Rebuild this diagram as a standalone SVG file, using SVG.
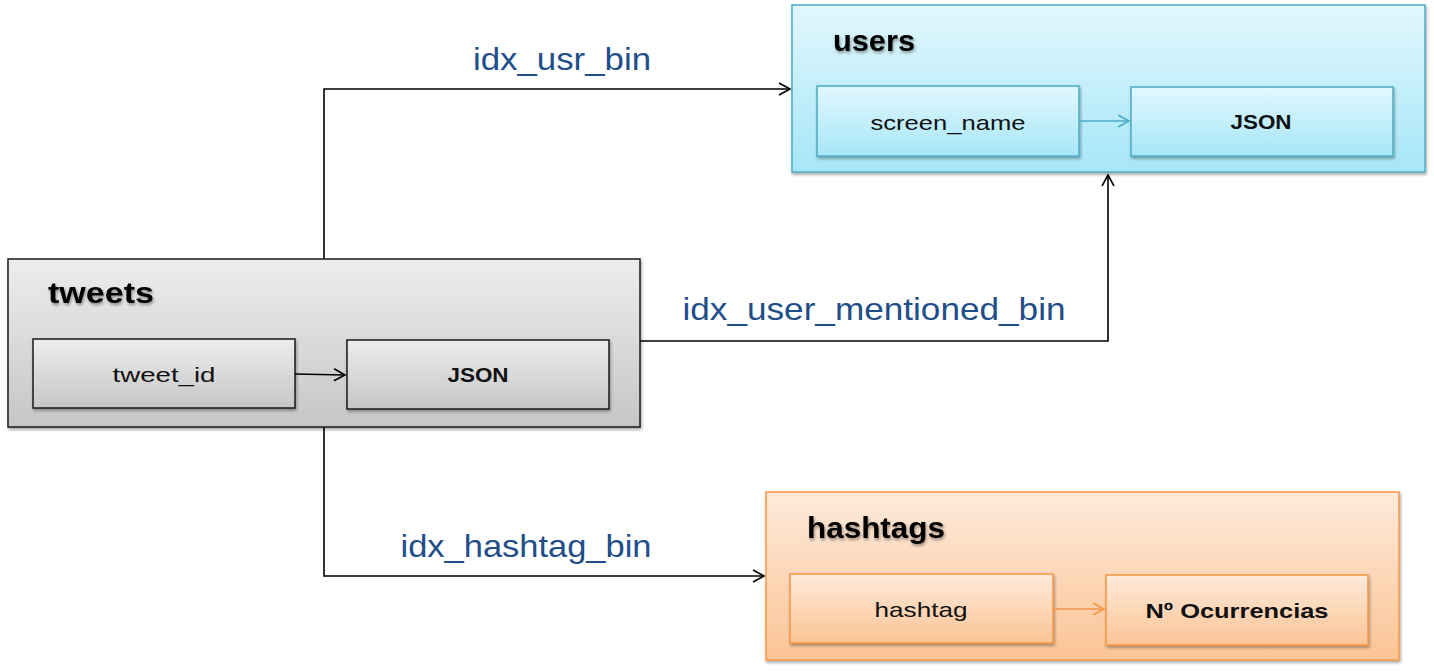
<svg xmlns="http://www.w3.org/2000/svg" width="1434" height="672" viewBox="0 0 1434 672">
<style>
.lbl{font-family:"Liberation Sans",Arial,sans-serif;font-size:32px;fill:#1f4e89;}
.title{font-family:"Liberation Sans",Arial,sans-serif;font-size:29px;font-weight:bold;fill:#000;}
.key{font-family:"Liberation Sans",Arial,sans-serif;font-size:21px;fill:#111;}
.val{font-family:"Liberation Sans",Arial,sans-serif;font-size:21px;font-weight:bold;fill:#111;}
.conn{fill:none;stroke:#000;stroke-width:1.6;}
</style>
<defs>
<linearGradient id="gGray" x1="0" y1="0" x2="0" y2="1"><stop offset="0" stop-color="#ededed"/><stop offset="1" stop-color="#c6c6c6"/></linearGradient>
<linearGradient id="gBlue" x1="0" y1="0" x2="0" y2="1"><stop offset="0" stop-color="#e2f7fd"/><stop offset="1" stop-color="#a6e6f8"/></linearGradient>
<linearGradient id="gOrange" x1="0" y1="0" x2="0" y2="1"><stop offset="0" stop-color="#feeadb"/><stop offset="1" stop-color="#fbc495"/></linearGradient>
<filter id="sh" x="-5%" y="-5%" width="110%" height="120%"><feDropShadow dx="1" dy="2" stdDeviation="1.5" flood-color="#000" flood-opacity="0.35"/></filter>
<filter id="tsh" x="-10%" y="-20%" width="130%" height="160%"><feDropShadow dx="1" dy="2" stdDeviation="1.5" flood-color="#000" flood-opacity="0.4"/></filter>
<marker id="arrK" markerWidth="14" markerHeight="14" refX="12" refY="7" orient="auto" markerUnits="userSpaceOnUse"><path d="M1,1 L12,7 L1,13" fill="none" stroke="#000" stroke-width="1.6"/></marker>
<marker id="arrB" markerWidth="14" markerHeight="14" refX="12" refY="7" orient="auto" markerUnits="userSpaceOnUse"><path d="M1,1 L12,7 L1,13" fill="none" stroke="#4bacc6" stroke-width="1.6"/></marker>
<marker id="arrO" markerWidth="14" markerHeight="14" refX="12" refY="7" orient="auto" markerUnits="userSpaceOnUse"><path d="M1,1 L12,7 L1,13" fill="none" stroke="#f79646" stroke-width="1.6"/></marker>
</defs>
<rect width="1434" height="672" fill="#fff"/>

<g id="connectors">
<path class="conn" d="M324,259 V89 H790" marker-end="url(#arrK)"/>
<path class="conn" d="M640,341 H1108 V175" marker-end="url(#arrK)"/>
<path class="conn" d="M324,427 V576 H764" marker-end="url(#arrK)"/>
<text class="lbl" x="562" y="70" text-anchor="middle" textLength="178" lengthAdjust="spacingAndGlyphs">idx_usr_bin</text>
<text class="lbl" x="874" y="320" text-anchor="middle" textLength="383" lengthAdjust="spacingAndGlyphs">idx_user_mentioned_bin</text>
<text class="lbl" x="526" y="557" text-anchor="middle" textLength="251" lengthAdjust="spacingAndGlyphs">idx_hashtag_bin</text>
</g>

<g id="tweets">
<rect x="8" y="259" width="632" height="168" fill="url(#gGray)" stroke="#1a1a1a" stroke-width="1.5" filter="url(#sh)"/>
<text class="title" x="48" y="303" textLength="106" lengthAdjust="spacingAndGlyphs" filter="url(#tsh)">tweets</text>
<g id="tweets-key">
<rect x="33" y="339" width="262" height="69" fill="url(#gGray)" stroke="#1a1a1a" stroke-width="1.5" filter="url(#sh)"/>
<text class="key" x="164" y="382" text-anchor="middle" textLength="103" lengthAdjust="spacingAndGlyphs">tweet_id</text>
</g>
<g id="tweets-value">
<rect x="347" y="340" width="262" height="69" fill="url(#gGray)" stroke="#1a1a1a" stroke-width="1.5" filter="url(#sh)"/>
<text class="val" x="478" y="382" text-anchor="middle" textLength="61" lengthAdjust="spacingAndGlyphs">JSON</text>
</g>
<path d="M295,374 L345,375" fill="none" stroke="#000" stroke-width="1.6" marker-end="url(#arrK)"/>
</g>

<g id="users">
<rect x="792" y="5" width="633" height="167" fill="url(#gBlue)" stroke="#4bacc6" stroke-width="1.5" filter="url(#sh)"/>
<text class="title" x="833" y="51" textLength="82" lengthAdjust="spacingAndGlyphs" filter="url(#tsh)">users</text>
<g id="users-key">
<rect x="817" y="86" width="262" height="70" fill="url(#gBlue)" stroke="#4bacc6" stroke-width="1.5" filter="url(#sh)"/>
<text class="key" x="948" y="130" text-anchor="middle" textLength="155" lengthAdjust="spacingAndGlyphs">screen_name</text>
</g>
<g id="users-value">
<rect x="1131" y="87" width="262" height="69" fill="url(#gBlue)" stroke="#4bacc6" stroke-width="1.5" filter="url(#sh)"/>
<text class="val" x="1261" y="129" text-anchor="middle" textLength="61" lengthAdjust="spacingAndGlyphs">JSON</text>
</g>
<path d="M1079,121 H1129" fill="none" stroke="#4bacc6" stroke-width="1.6" marker-end="url(#arrB)"/>
</g>

<g id="hashtags">
<rect x="766" y="492" width="633" height="168" fill="url(#gOrange)" stroke="#f79646" stroke-width="1.5" filter="url(#sh)"/>
<text class="title" x="807" y="538" textLength="138" lengthAdjust="spacingAndGlyphs" filter="url(#tsh)">hashtags</text>
<g id="hashtags-key">
<rect x="790" y="574" width="263" height="69" fill="url(#gOrange)" stroke="#f79646" stroke-width="1.5" filter="url(#sh)"/>
<text class="key" x="921" y="617" text-anchor="middle" textLength="93" lengthAdjust="spacingAndGlyphs">hashtag</text>
</g>
<g id="hashtags-value">
<rect x="1106" y="575" width="262" height="70" fill="url(#gOrange)" stroke="#f79646" stroke-width="1.5" filter="url(#sh)"/>
<text class="val" x="1237" y="618" text-anchor="middle" textLength="183" lengthAdjust="spacingAndGlyphs">Nº Ocurrencias</text>
</g>
<path d="M1053,609 H1104" fill="none" stroke="#f79646" stroke-width="1.6" marker-end="url(#arrO)"/>
</g>
</svg>
